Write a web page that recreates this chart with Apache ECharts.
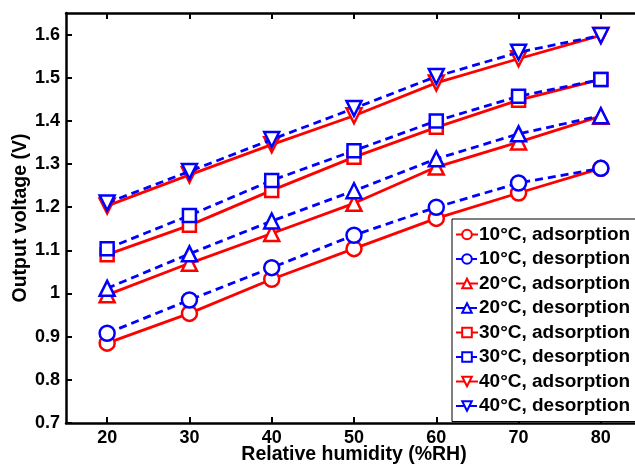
<!DOCTYPE html>
<html>
<head>
<meta charset="utf-8">
<script src="https://cdn.jsdelivr.net/npm/echarts@6/dist/echarts.min.js"></script>
<style>html,body{margin:0;padding:0;background:#fff}#c{width:635px;height:466px}</style>
</head>
<body>
<div id="c"></div>
<script>
var humidity = [20, 30, 40, 50, 60, 70, 80];
var yTicks = [0.7, 0.8, 0.9, 1.0, 1.1, 1.2, 1.3, 1.4, 1.5, 1.6];
var ads10 = [0.885, 0.954, 1.033, 1.104, 1.174, 1.233, 1.290];
var des10 = [0.908, 0.985, 1.060, 1.135, 1.200, 1.256, 1.290];
var ads20 = [0.997, 1.070, 1.139, 1.209, 1.293, 1.351, 1.411];
var des20 = [1.012, 1.092, 1.168, 1.238, 1.312, 1.370, 1.412];
var ads30 = [1.090, 1.158, 1.239, 1.316, 1.385, 1.448, 1.496];
var des30 = [1.104, 1.181, 1.262, 1.331, 1.400, 1.457, 1.496];
var ads40 = [1.203, 1.275, 1.345, 1.412, 1.488, 1.544, 1.598];
var des40 = [1.210, 1.283, 1.357, 1.429, 1.503, 1.559, 1.598];

var names = ['10°C, adsorption','10°C, desorption','20°C, adsorption','20°C, desorption',
             '30°C, adsorption','30°C, desorption','40°C, adsorption','40°C, desorption'];
var datasets = [ads10, des10, ads20, des20, ads30, des30, ads40, des40];
var symbols = ['circle','circle','triangle','triangle','rect','rect','triangle','triangle'];
var rotates = [0,0,0,0,0,0,180,180];

var series = datasets.map(function(d, i){
  var blue = i % 2 === 1;
  var col = blue ? '#0000ff' : '#ff0000';
  return {
    name: names[i],
    type: 'line',
    data: d.map(function(v, k){ return [humidity[k], v]; }),
    symbol: symbols[i],
    symbolRotate: rotates[i],
    symbolSize: symbols[i]==='rect' ? 13 : 15,
    showAllSymbol: true,
    lineStyle: {color: col, width: 2.8, type: blue ? [8, 5] : 'solid'},
    itemStyle: {color: '#fff', borderColor: col, borderWidth: 2.5},
    emphasis: {disabled: true},
    z: blue ? 3 : 2
  };
});

var FF = 'Liberation Sans, Arial';
var lab = {fontFamily: FF, fontWeight: 'bold', fontSize: 18, color: '#000'};
var chart = echarts.init(document.getElementById('c'), null, {renderer: 'canvas'});
chart.setOption({
  animation: false,
  backgroundColor: '#fff',
  grid: {left: 66, top: 13, width: 576, height: 410, containLabel: false, outerBoundsMode: 'none'},
  xAxis: [{
    type: 'value', min: 15, max: 85, position: 'bottom',
    name: 'Relative humidity (%RH)', nameLocation: 'middle', nameGap: 22, nameMoveOverlap: false,
    nameTextStyle: {fontFamily: FF, fontWeight: 'bold', fontSize: 19.5, color: '#000'},
    axisLine: {lineStyle: {color: '#000', width: 2.5}},
    axisTick: {inside: true, length: 6, lineStyle: {color: '#000', width: 2}, customValues: humidity},
    axisLabel: Object.assign({margin: 6, customValues: humidity}, lab),
    splitLine: {show: false}
  }, {
    type: 'value', min: 15, max: 85, position: 'top',
    axisLine: {lineStyle: {color: '#000', width: 2.5}},
    axisTick: {inside: true, length: 6, lineStyle: {color: '#000', width: 2}, customValues: humidity},
    axisLabel: {show: false},
    splitLine: {show: false}
  }],
  yAxis: [{
    type: 'value', min: 0.7, max: 1.65,
    name: 'Output voltage (V)', nameLocation: 'middle', nameGap: 35, nameMoveOverlap: false,
    nameTextStyle: {fontFamily: FF, fontWeight: 'bold', fontSize: 19.5, color: '#000'},
    axisLine: {show: true, lineStyle: {color: '#000', width: 2.5}},
    axisTick: {show: true, inside: true, length: 6, lineStyle: {color: '#000', width: 2}, customValues: yTicks},
    axisLabel: Object.assign({margin: 6, customValues: yTicks, formatter: function(v){ return String(Math.round(v*10)/10); }}, lab),
    splitLine: {show: false}
  }],
  legend: {
    orient: 'vertical', left: 452, top: 219,
    data: names,
    itemWidth: 22, itemHeight: 12, itemGap: 5.5,
    padding: [6, 10, 6, 3],
    borderColor: '#000', borderWidth: 1, backgroundColor: '#fff',
    textStyle: {fontFamily: FF, fontWeight: 'bold', fontSize: 19, lineHeight: 18, color: '#000', padding: [0,0,0,-4]},
    z: 10
  },
  series: series
});
</script>
</body>
</html>
